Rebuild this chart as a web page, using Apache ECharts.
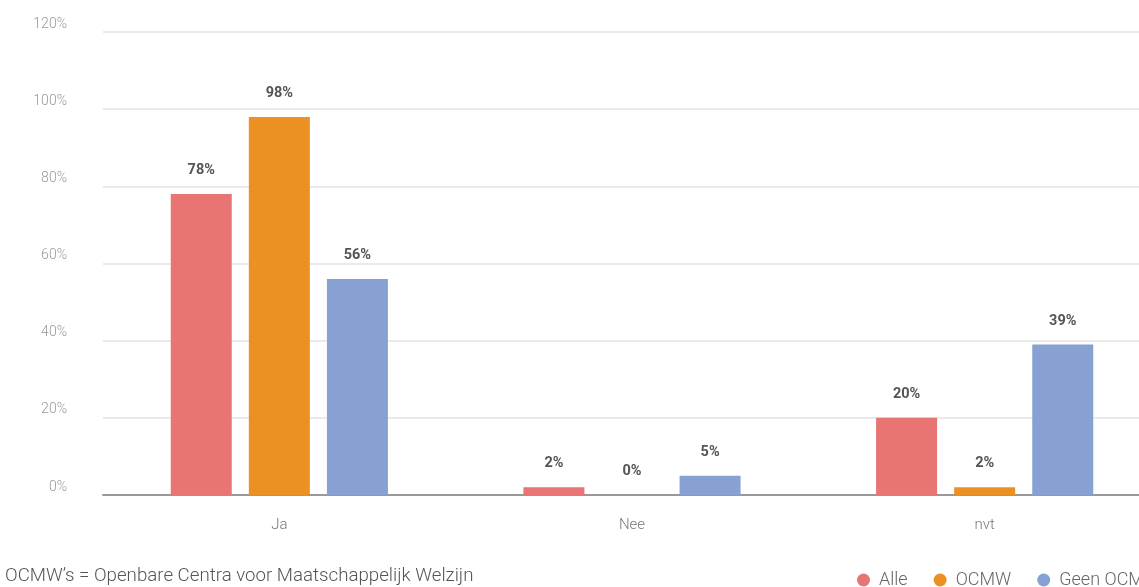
<!DOCTYPE html>
<html>
<head>
<meta charset="utf-8">
<script src="https://cdn.jsdelivr.net/npm/echarts@6/dist/echarts.min.js"></script>
<style>
  html, body { margin: 0; padding: 0; background: #fff; overflow: hidden; }
  /* the chart is a bit wider than the window, so its right edge is cut off */
  #chart { width: 1170px; height: 587px; }
</style>
</head>
<body>
<div id="chart"></div>
<script>
// Answer categories and share per group (percent)
const categories = ['Ja', 'Nee', 'nvt'];
const alle = [78, 2, 20];
const ocmw = [98, 0, 2];
const geenOcmw = [56, 5, 39];
const seriesNames = ['Alle', 'OCMW', 'Geen OCMW'];
const colors = ['#E97474', '#EB9023', '#86A1D2'];
const footnote = 'OCMW\u2019s = Openbare Centra voor Maatschappelijk Welzijn';

const chart = echarts.init(document.getElementById('chart'));

const labelStyle = {
  show: true,
  position: 'top',
  distance: 16,
  formatter: p => p.value + '%',
  color: '#555',
  fontFamily: 'Roboto',
  fontWeight: 'bold',
  fontSize: 14.5
};

function bar(name, data, color) {
  return {
    name: name,
    type: 'bar',
    data: data,
    barWidth: 61,
    barGap: '28%',
    itemStyle: { color: color },
    label: labelStyle
  };
}

chart.setOption({
  animation: false,
  textStyle: { fontFamily: 'Roboto' },
  grid: { left: 103, right: 9, top: 32, bottom: 92 },
  legend: {
    data: seriesNames,
    left: 852,
    top: 566,
    icon: 'circle',
    itemWidth: 13,
    itemHeight: 13,
    itemGap: 26,
    textStyle: { color: '#666', fontSize: 18, fontFamily: 'Roboto', fontWeight: 300, padding: [0, 0, 0, 4] }
  },
  graphic: [{
    type: 'text',
    left: 5,
    top: 567,
    style: { text: footnote, fill: '#555', fontSize: 18.7, fontFamily: 'Roboto', fontWeight: 300 }
  }],
  xAxis: {
    type: 'category',
    data: categories,
    axisLine: { lineStyle: { color: '#999', width: 2 } },
    axisTick: { show: false },
    axisLabel: { color: '#777', fontSize: 15, margin: 23, fontFamily: 'Roboto', fontWeight: 300 }
  },
  yAxis: {
    type: 'value',
    min: 0,
    max: 120,
    interval: 20,
    axisLine: { show: false },
    axisTick: { show: false },
    splitLine: { lineStyle: { color: '#e3e3e3', width: 1.5 } },
    axisLabel: {
      formatter: v => v + '%',
      color: '#999',
      fontSize: 14,
      margin: 36,
      verticalAlign: 'bottom',
      lineHeight: 16,
      fontFamily: 'Roboto',
      fontWeight: 300
    }
  },
  series: [
    bar(seriesNames[0], alle, colors[0]),
    bar(seriesNames[1], ocmw, colors[1]),
    bar(seriesNames[2], geenOcmw, colors[2])
  ]
});
</script>
</body>
</html>
